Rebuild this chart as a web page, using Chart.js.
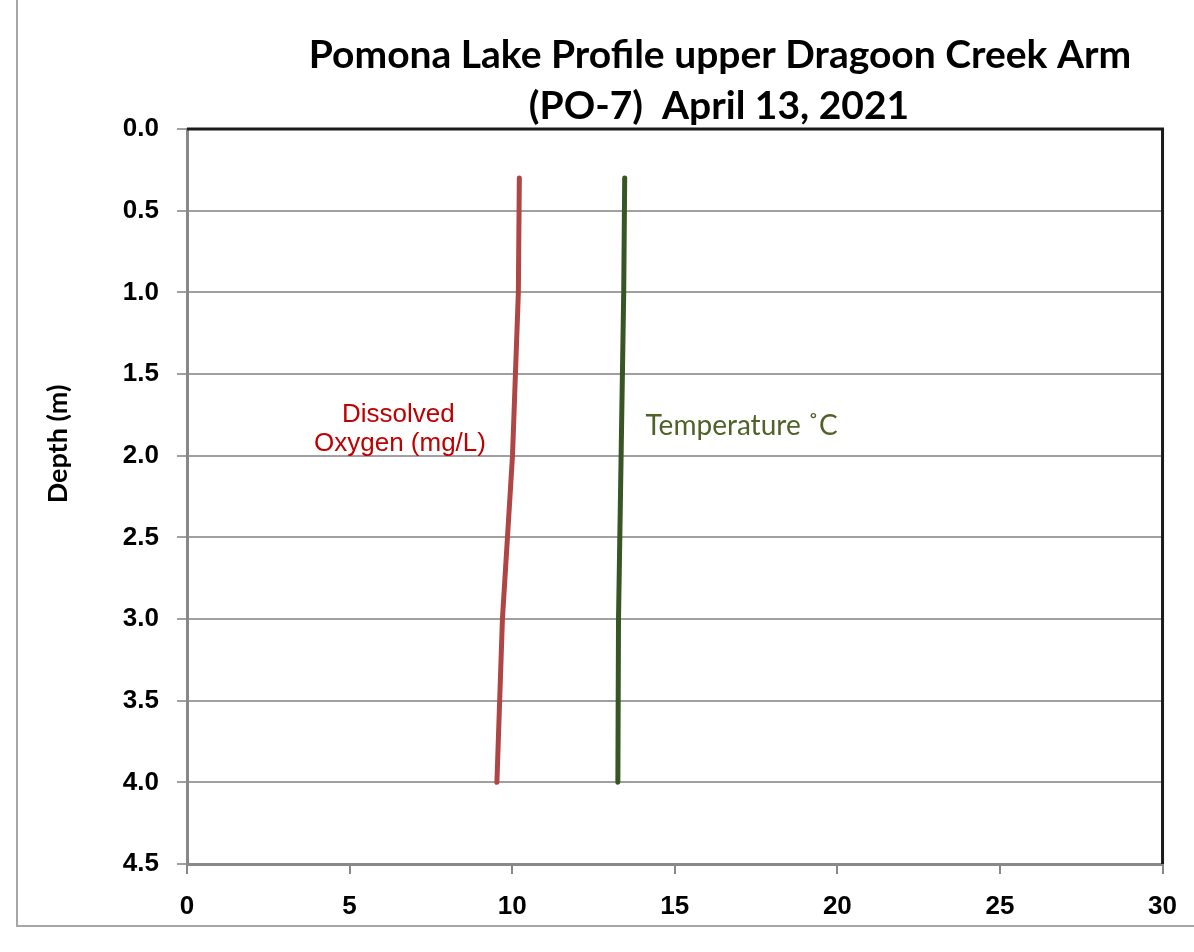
<!DOCTYPE html>
<html>
<head>
<meta charset="utf-8">
<script src="https://cdn.jsdelivr.net/npm/chart.js@4/dist/chart.umd.min.js"></script>
<style>
  html, body { margin: 0; padding: 0; background: #fff; }
  #wrap { width: 1194px; height: 952px; position: relative; }
</style>
</head>
<body>
<div id="wrap"><canvas id="chart"></canvas></div>
<script>
// depth profile
const depths = [0.3, 1.0, 2.0, 3.0, 4.0];
const oxygen = [10.22, 10.19, 10.01, 9.70, 9.53];
const temperature = [13.46, 13.43, 13.35, 13.27, 13.25];
const xTicks = [0, 5, 10, 15, 20, 25, 30];
const depthTicks = [0, 0.5, 1, 1.5, 2, 2.5, 3, 3.5, 4, 4.5];

const titleLines = ["Pomona Lake Profile upper Dragoon Creek Arm", "(PO-7)  April 13, 2021"];

const toPoints = (vals) => vals.map((v, i) => ({ x: v, y: depths[i] }));

// title, border box, axis title and in-plot labels
const decorations = {
  id: "decorations",
  afterDraw(chart) {
    const { ctx, chartArea: a, scales } = chart;
    ctx.save();
    // outer frame (left + bottom visible)
    ctx.strokeStyle = "#a6a6a6";
    ctx.lineWidth = 2;
    ctx.beginPath();
    ctx.moveTo(17, 0);
    ctx.lineTo(17, 926);
    ctx.lineTo(1194, 926);
    ctx.stroke();
    // top / right plot border
    ctx.strokeStyle = "#1a1a1a";
    ctx.lineWidth = 3;
    ctx.beginPath();
    ctx.moveTo(a.left, a.top);
    ctx.lineTo(a.right, a.top);
    ctx.lineTo(a.right, a.bottom);
    ctx.stroke();

    ctx.fillStyle = "#000";
    ctx.textAlign = "center";
    ctx.textBaseline = "middle";
    ctx.font = "bold 39px Lato, 'Open Sans', sans-serif";
    ctx.fillText(titleLines[0], 720, 55);
    ctx.fillText(titleLines[1], 719, 106);

    // y axis title
    ctx.save();
    ctx.translate(58, 444);
    ctx.rotate(-Math.PI / 2);
    ctx.font = "bold 27px Lato, 'Open Sans', sans-serif";
    ctx.fillText("Depth (m)", 0, 0);
    ctx.restore();

    const x = scales.x, y = scales.y;
    ctx.fillStyle = "#c00000";
    ctx.font = "26px 'Liberation Sans', Arial, sans-serif";
    ctx.fillText("Dissolved", x.getPixelForValue(6.5), y.getPixelForValue(1.75));
    ctx.fillText("Oxygen (mg/L)", x.getPixelForValue(6.55), y.getPixelForValue(1.93));

    ctx.fillStyle = "#4f6228";
    ctx.textAlign = "left";
    ctx.font = "28px Lato, 'Open Sans', sans-serif";
    ctx.fillText("Temperature \u02daC", x.getPixelForValue(14.1), y.getPixelForValue(1.82));
    ctx.restore();
  }
};

new Chart(document.getElementById("chart"), {
  type: "scatter",
  data: {
    datasets: [
      {
        label: "Dissolved Oxygen (mg/L)",
        data: toPoints(oxygen),
        showLine: true,
        borderColor: "#b04545",
        borderWidth: 5,
        borderCapStyle: "round",
        pointRadius: 0,
        tension: 0
      },
      {
        label: "Temperature ˚C",
        data: toPoints(temperature),
        showLine: true,
        borderColor: "#375623",
        borderWidth: 5,
        borderCapStyle: "round",
        pointRadius: 0,
        tension: 0
      }
    ]
  },
  options: {
    responsive: true,
    maintainAspectRatio: false,
    animation: false,
    layout: { padding: { left: 0, top: 129, right: 27, bottom: 0 } },
    plugins: {
      legend: { display: false },
      tooltip: { enabled: false },
      title: { display: false }
    },
    scales: {
      x: {
        type: "linear",
        min: 0,
        max: 30,
        afterBuildTicks: (s) => { s.ticks = xTicks.map(v => ({ value: v })); },
        afterFit: (s) => { s.height = 88; },
        border: { color: "#888888", width: 3 },
        grid: { drawOnChartArea: false, tickLength: 10, color: "#888888", lineWidth: 2 },
        ticks: {
          color: "#000",
          padding: 17,
          font: { family: "'Liberation Sans', Arial, sans-serif", size: 26, weight: "bold" }
        }
      },
      y: {
        type: "linear",
        reverse: true,
        min: 0,
        max: 4.5,
        afterBuildTicks: (s) => { s.ticks = depthTicks.map(v => ({ value: v })); },
        afterFit: (s) => { s.width = 187; },
        border: { color: "#888888", width: 3 },
        grid: { color: "#a0a0a0", lineWidth: 2, tickLength: 10 },
        ticks: {
          color: "#000",
          padding: 18,
          callback: (v) => Number(v).toFixed(1),
          font: { family: "'Liberation Sans', Arial, sans-serif", size: 26, weight: "bold" }
        }
      }
    }
  },
  plugins: [decorations]
});
</script>
</body>
</html>
